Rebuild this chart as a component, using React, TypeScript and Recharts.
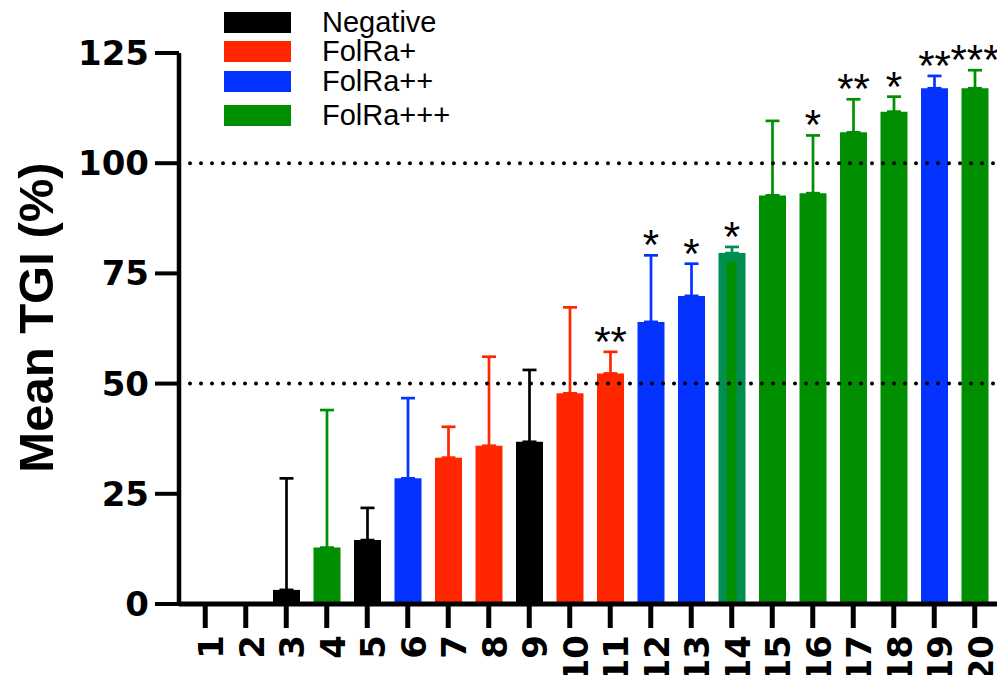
import React from 'react';
import { BarChart, Bar, XAxis, YAxis, ErrorBar, ReferenceLine, Legend, LabelList, Label } from 'recharts';

// groups: 1 .. 20 as in the figure
const categories = ['1', '2', '3', '4', '5', '6', '7', '8', '9', '10', '11', '12', '13', '14', '15', '16', '17', '18', '19', '20'];
const meanTGI = [0, 0, 3.2, 12.8, 14.5, 28.5, 33.2, 35.9, 36.8, 47.8, 52.3, 64.0, 69.9, 79.6, 92.7, 93.2, 107.0, 111.7, 117.0, 117.0];
const errorUp = [null, null, 25.3, 31.2, 7.3, 18.2, 7.0, 20.2, 16.3, 19.5, 4.9, 15.1, 7.3, 1.4, 16.9, 13.1, 7.5, 3.4, 2.8, 4.1];
const folr = ['neg', 'neg', 'neg', 'p3', 'neg', 'p2', 'p1', 'p1', 'neg', 'p1', 'p1', 'p2', 'p2', 'p3b', 'p3', 'p3', 'p3', 'p3', 'p2', 'p3'];
const innerMean = [null, null, null, null, null, null, null, null, null, null, null, null, null, 77.7, null, null, null, null, null, null];
const stars = ['', '', '', '', '', '', '', '', '', '', '**', '*', '*', '*', '', '*', '**', '*', '**', '***'];

const SERIES = [
  { key: 'neg', name: 'Negative', color: '#000000' },
  { key: 'p1', name: 'FolRa+', color: '#FF2600' },
  { key: 'p2', name: 'FolRa++', color: '#0433FF' },
  { key: 'p3', name: 'FolRa+++', color: '#008F00' },
];
const MOSS = '#008F51';
const FONT = '"Liberation Sans", Arial, Helvetica, sans-serif';
const TICK_FONT = '"DejaVu Sans", "Liberation Sans", Arial, sans-serif';

const rows = categories.map((c, i) => {
  const row: any = { name: c, inner: innerMean[i], stars: stars[i] };
  row[folr[i]] = meanTGI[i];
  row[folr[i] + 'Err'] = errorUp[i] == null ? null : [0, errorUp[i]];
  row.starTop = stars[i] ? meanTGI[i] + (errorUp[i] || 0) : null;
  return row;
});

const XTick = ({ x, y, payload }: any) => (
  <text transform={`translate(${x},${y}) rotate(-90)`} textAnchor="end" dy={18}
    fontFamily={TICK_FONT} fontWeight="bold" fontSize={34} fill="#000">{payload.value}</text>
);

const StarLabel = ({ x, y, width, value }: any) => {
  if (!value) return null;
  return (
    <text x={x + width / 2} y={y + 4} textAnchor="middle" fontFamily={FONT} fontSize={42} fill="#000">{value}</text>
  );
};

const LEGEND_ROWS = [22, 51.5, 81.5, 115];

const LegendBox = ({ payload }: any) => {
  const items = SERIES.map((s) => (payload || []).find((p: any) => p.value === s.name)).filter(Boolean);
  return (
    <div style={{ position: 'relative', width: 260, height: 130 }}>
      {items.map((p: any, i: number) => (
        <div key={p.value} style={{ position: 'absolute', left: 0, top: LEGEND_ROWS[i] - 10.5, display: 'flex', alignItems: 'center' }}>
          <div style={{ width: 67, height: 21, background: p.color }} />
          <span style={{ marginLeft: 31, fontSize: 29, fontFamily: FONT, lineHeight: '21px', color: '#000', whiteSpace: 'nowrap' }}>{p.value}</span>
        </div>
      ))}
    </div>
  );
};

const YTitle = ({ viewBox }: any) => (
  <text transform={`translate(${viewBox.x + 53},${viewBox.y + viewBox.height / 2 - 11}) rotate(-90)`} textAnchor="middle"
    fontFamily={FONT} fontWeight="bold" fontSize={49} fill="#000">Mean TGI (%)</text>
);

export default function App() {
  return (
    <div style={{ position: 'absolute', left: 0, top: 0, background: '#fff' }}>
      <BarChart width={997} height={675} data={rows} margin={{ top: 53, right: 0, bottom: 0, left: 0 }} barCategoryGap={0}>
        <XAxis dataKey="name" height={71} padding={{ left: 6, right: 2 }} interval={0}
          tick={<XTick />} tickSize={24} tickMargin={7}
          axisLine={{ stroke: '#000', strokeWidth: 5 }} tickLine={{ stroke: '#000', strokeWidth: 5 }} />
        <XAxis xAxisId="inner" dataKey="name" hide padding={{ left: 6, right: 2 }} />
        <XAxis xAxisId="stars" dataKey="name" hide padding={{ left: 6, right: 2 }} />
        <YAxis width={179} domain={[0, 125]} ticks={[0, 25, 50, 75, 100, 125]} interval={0}
          tickSize={24} tickMargin={6}
          tick={{ fontFamily: TICK_FONT, fontWeight: 'bold', fontSize: 34, fill: '#000' }}
          axisLine={{ stroke: '#000', strokeWidth: 4.5 }} tickLine={{ stroke: '#000', strokeWidth: 4 }}>
          <Label content={<YTitle />} />
        </YAxis>
        {SERIES.map((s) => (
          <Bar key={s.key} dataKey={s.key} name={s.name} stackId="tgi" fill={s.color} barSize={27} isAnimationActive={false}>
            <ErrorBar dataKey={s.key + 'Err'} width={7} stroke={s.color} strokeWidth={2.7} isAnimationActive={false} />
          </Bar>
        ))}
        <Bar dataKey="p3b" name="FolRa+++ (14)" stackId="tgi" fill={MOSS} barSize={27} legendType="none" isAnimationActive={false}>
          <ErrorBar dataKey="p3bErr" width={7} stroke={MOSS} strokeWidth={2.7} isAnimationActive={false} />
        </Bar>
        <Bar xAxisId="inner" dataKey="inner" fill="#008F00" barSize={10} legendType="none" isAnimationActive={false} />
        <Bar xAxisId="stars" dataKey="starTop" fill="none" barSize={27} legendType="none" isAnimationActive={false}>
          <LabelList dataKey="stars" content={<StarLabel />} />
        </Bar>
        <ReferenceLine y={100} stroke="#000" strokeWidth={4} strokeDasharray="0 11" strokeLinecap="round" />
        <ReferenceLine y={50} stroke="#000" strokeWidth={4} strokeDasharray="0 11" strokeLinecap="round" />
        <Legend layout="horizontal" verticalAlign="middle" align="center" content={<LegendBox />}
          wrapperStyle={{ top: 0, left: 224, width: 'auto' }} />
      </BarChart>
    </div>
  );
}
